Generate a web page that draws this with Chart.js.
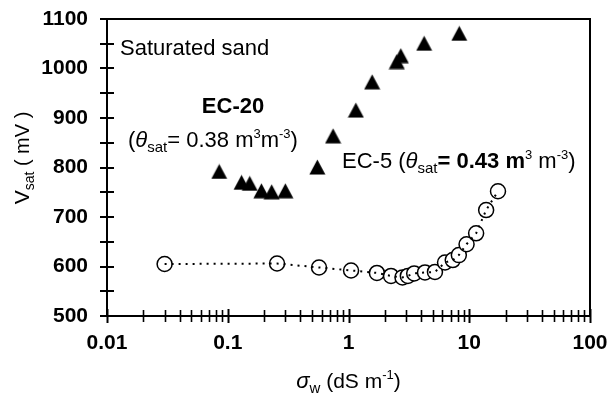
<!DOCTYPE html>
<html>
<head>
<meta charset="utf-8">
<script src="https://cdn.jsdelivr.net/npm/chart.js@4"></script>
<style>
html,body{margin:0;padding:0;background:#fff;}
canvas{display:block;}
</style>
</head>
<body>
<canvas id="c" width="611" height="394"></canvas>
<script>
// EC-5 sensor (open circles, dotted line)
const ec5X = [0.03, 0.256, 0.57, 1.05, 1.72, 2.25, 2.8, 3.1, 3.5, 4.3, 5.2, 6.3, 7.3, 8.2, 9.5, 11.4, 13.8, 17.3];
const ec5Y = [605, 606, 598, 592, 587, 581, 578, 581, 586, 588, 589, 608, 613, 623, 645, 667, 714, 752];
// EC-20 sensor (filled triangles)
const ec20X = [0.085, 0.13, 0.152, 0.19, 0.231, 0.30, 0.552, 0.745, 1.15, 1.57, 2.51, 2.71, 4.23, 8.27];
const ec20Y = [792, 770, 768, 753, 751, 753, 801, 864, 916, 973, 1014, 1026, 1051, 1071];
// axis ticks
const xDecades = [0.01, 0.1, 1, 10, 100];
const yMajor = [500, 600, 700, 800, 900, 1000, 1100];

const FONT = '"Liberation Sans", Arial, sans-serif';

function triCanvas() {
  const c = document.createElement('canvas');
  c.width = 17; c.height = 16;
  const g = c.getContext('2d');
  g.fillStyle = '#000';
  g.beginPath();
  g.moveTo(8.5, 0.5); g.lineTo(16.5, 15.5); g.lineTo(0.5, 15.5); g.closePath();
  g.fill();
  return c;
}

const toPts = (xs, ys) => xs.map((x, i) => ({x: x, y: ys[i]}));

function richText(ctx, segs, x, y, align) {
  // segs: [text, fontSize, weight, style, dy]
  let w = 0;
  segs.forEach(s => { ctx.font = `${s[3]||'normal'} ${s[2]||'normal'} ${s[1]}px ${FONT}`; w += ctx.measureText(s[0]).width; });
  let cx = align === 'center' ? x - w / 2 : x;
  ctx.textAlign = 'left';
  ctx.textBaseline = 'alphabetic';
  segs.forEach(s => {
    ctx.font = `${s[3]||'normal'} ${s[2]||'normal'} ${s[1]}px ${FONT}`;
    ctx.fillText(s[0], cx, y + (s[4]||0));
    cx += ctx.measureText(s[0]).width;
  });
}

const decor = {
  id: 'decor',
  afterDraw(chart) {
    const ctx = chart.ctx, a = chart.chartArea;
    const xs = chart.scales.x, ys = chart.scales.y;
    ctx.save();
    ctx.strokeStyle = '#000';
    ctx.fillStyle = '#000';
    ctx.lineWidth = 2;
    ctx.strokeRect(a.left, a.top, a.right - a.left, a.bottom - a.top);
    // y ticks (every 50, crossing the axis)
    for (let v = 500; v <= 1100; v += 50) {
      const py = Math.round(ys.getPixelForValue(v));
      ctx.beginPath(); ctx.moveTo(a.left - 7, py); ctx.lineTo(a.left + 7, py); ctx.stroke();
    }
    // x ticks (log, crossing the axis)
    for (let e = -2; e <= 2; e++) {
      for (let k = 1; k <= 9; k++) {
        const v = k * Math.pow(10, e);
        if (v > 100.0001) break;
        const px = Math.round(xs.getPixelForValue(v)) + 0.5;
        const len = k === 1 ? 7 : 6;
        ctx.lineWidth = k === 1 ? 2 : 1.6;
        ctx.beginPath(); ctx.moveTo(px, a.bottom - len); ctx.lineTo(px, a.bottom + len); ctx.stroke();
      }
    }
    // annotations
    richText(ctx, [['Saturated sand', 22]], a.left + 13, a.top + 36);
    richText(ctx, [['EC-20', 22, 'bold']], a.left + 126, a.top + 94, 'center');
    richText(ctx, [['(', 22], ['θ', 22, 'normal', 'italic'], ['sat', 15, 'normal', 'normal', 5], ['= 0.38 m', 22], ['3', 13, 'normal', 'normal', -9], ['m', 22], ['-3', 13, 'normal', 'normal', -9], [')', 22]], a.left + 21, a.top + 128);
    richText(ctx, [['EC-5 (', 22], ['θ', 22, 'normal', 'italic'], ['sat', 15, 'normal', 'normal', 5], ['= 0.43 m', 22, 'bold'], ['3', 13, 'normal', 'normal', -9], [' m', 22], ['-3', 13, 'normal', 'normal', -9], [')', 22]], a.left + 235, a.top + 149);
    // axis titles
    richText(ctx, [['σ', 22, 'normal', 'italic'], ['w', 15, 'normal', 'normal', 5], [' (dS m', 21], ['-1', 13, 'normal', 'normal', -9], [')', 21]], (a.left + a.right) / 2, 388, 'center');
    ctx.save();
    ctx.translate(29, 158);
    ctx.rotate(-Math.PI / 2);
    richText(ctx, [['V', 21], ['sat', 14, 'normal', 'normal', 5], [' ( mV )', 20]], 0, 0, 'center');
    ctx.restore();
    ctx.restore();
  }
};

new Chart(document.getElementById('c'), {
  type: 'scatter',
  data: {
    datasets: [
      {
        label: 'EC-5 line',
        data: toPts(ec5X, ec5Y),
        showLine: true,
        borderColor: '#000',
        borderWidth: 2,
        borderDash: [2, 5],
        pointRadius: 0,
        order: 0
      },
      {
        label: 'EC-5',
        data: toPts(ec5X, ec5Y),
        pointStyle: 'circle',
        pointRadius: 7.5,
        borderWidth: 1.5,
        borderColor: '#000',
        backgroundColor: '#fff',
        order: 1
      },
      {
        label: 'EC-20',
        data: toPts(ec20X, ec20Y),
        pointStyle: triCanvas(),
        pointRadius: 8,
        order: 2
      }
    ]
  },
  options: {
    responsive: false,
    animation: false,
    devicePixelRatio: 1,
    layout: { padding: { top: 19, right: 21, left: 0, bottom: 0 } },
    plugins: { legend: { display: false }, tooltip: { enabled: false } },
    scales: {
      x: {
        type: 'logarithmic',
        min: 0.01, max: 100,
        grid: { display: false, drawTicks: false },
        border: { display: false },
        afterFit(s) { s.height = 78; s.paddingLeft = 0; s.paddingRight = 0; },
        afterBuildTicks(s) { s.ticks = xDecades.map(v => ({value: v})); },
        ticks: {
          autoSkip: false,
          maxRotation: 0,
          padding: 15,
          color: '#000',
          font: { family: FONT, size: 21, weight: 'bold' },
          callback: (v) => String(v)
        }
      },
      y: {
        min: 500, max: 1100,
        grid: { display: false, drawTicks: false },
        border: { display: false },
        afterFit(s) { s.width = 107; s.paddingTop = 0; s.paddingBottom = 0; },
        afterBuildTicks(s) { s.ticks = yMajor.map(v => ({value: v})); },
        ticks: {
          padding: 19,
          color: '#000',
          font: { family: FONT, size: 21, weight: 'bold' },
          callback: (v) => String(v)
        }
      }
    }
  },
  plugins: [decor]
});
</script>
</body>
</html>
